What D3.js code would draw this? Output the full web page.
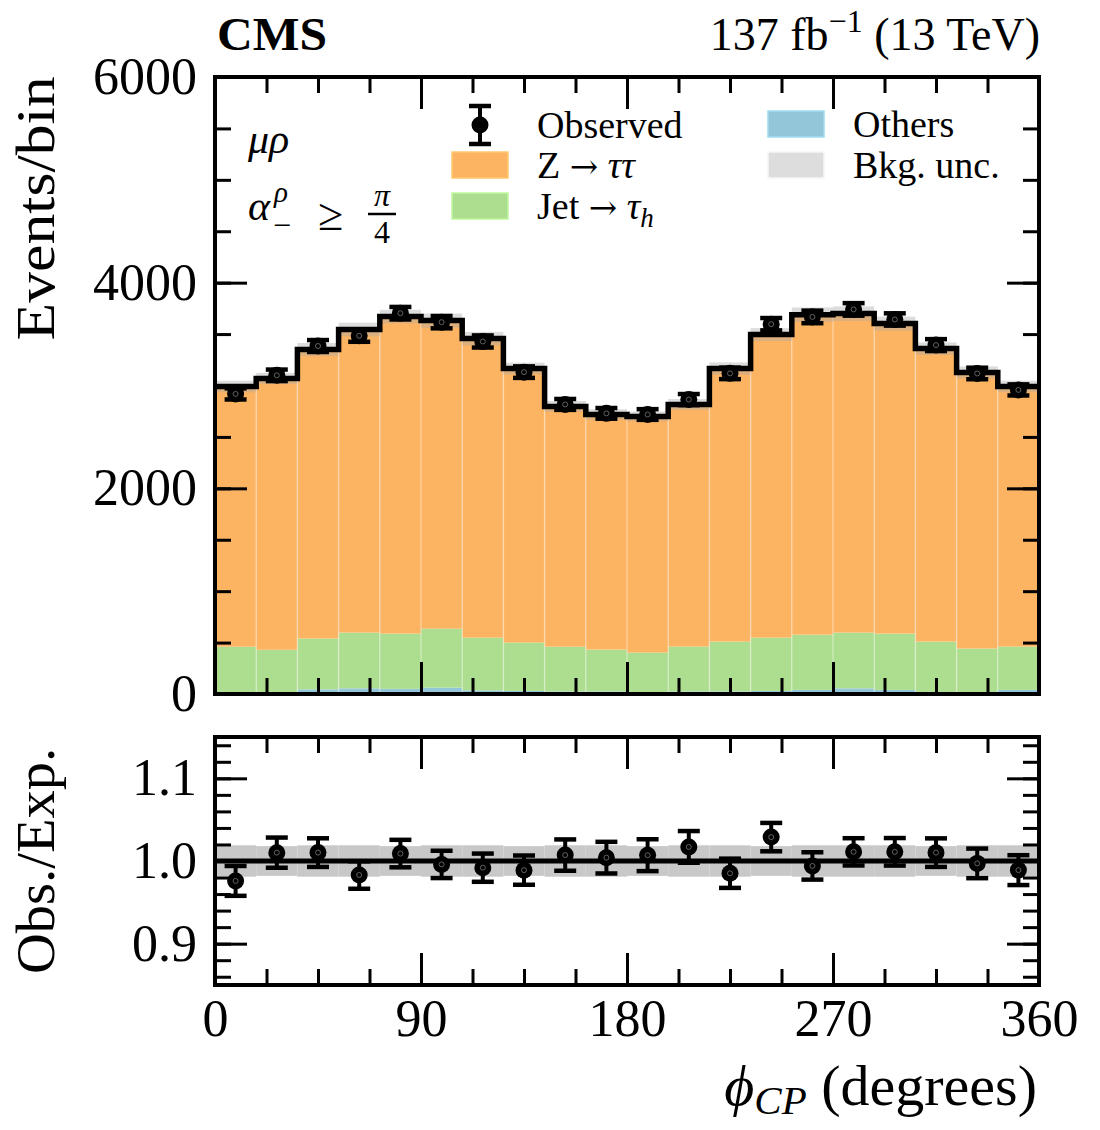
<!DOCTYPE html>
<html>
<head>
<meta charset="utf-8">
<script src="https://cdn.jsdelivr.net/npm/d3@7"></script>
<style>
  body { margin: 0; background: #fff; }
  text { font-family: "Liberation Serif", "DejaVu Serif", serif; fill: #000; }
</style>
</head>
<body>
<div id="chart"></div>
<script>
// phi_CP bin edges (degrees), 20 bins
const binEdges = [0, 18, 36, 54, 72, 90, 108, 126, 144, 162, 180,
                  198, 216, 234, 252, 270, 288, 306, 324, 342, 360];

// stacked backgrounds (events / bin), bottom to top
const othersVals = [15, 20, 45, 55, 50, 62, 35, 30, 25, 25, 20, 25, 25, 30, 40, 55, 40, 20, 20, 40];
const jetVals    = [445, 410, 495, 542, 537, 573, 513, 470, 435, 407, 383, 436, 485, 518, 537, 542, 547, 490, 422, 421];
const zttVals    = [2530, 2638, 2810, 2947, 3083, 2996, 2908, 2665, 2336, 2286, 2296, 2354, 2655, 2947, 3112, 3102, 3015, 2849, 2684, 2529];

// relative background uncertainty per bin
const bkgUnc = [0.019, 0.018, 0.019, 0.019, 0.018, 0.019, 0.019, 0.018, 0.019, 0.019,
                0.018, 0.019, 0.019, 0.018, 0.019, 0.019, 0.019, 0.018, 0.019, 0.019];

// data
const observed = [2918, 3099, 3384, 3484, 3703, 3616, 3428, 3130, 2816, 2729,
                  2718, 2863, 3118, 3596, 3667, 3740, 3642, 3393, 3117, 2957];
const obsErr   = [54, 56, 58, 59, 61, 60, 59, 56, 53, 52, 52, 54, 56, 60, 61, 61, 60, 58, 56, 54];

const xTicks = [0, 90, 180, 270, 360];
const yTicks = [0, 2000, 4000, 6000];
const ratioTicks = [0.9, 1.0, 1.1];

const colors = { others: "#92c6d8", jet: "#addd8e", ztt: "#fdb462" };

function chart(selector) {
  const W = 1100, H = 1130;
  const L = 215, R = 1039, mainTop = 77, mainBot = 694, ratTop = 737, ratBot = 985;

  const svg = d3.select(selector).append("svg")
    .attr("width", W).attr("height", H);

  const x = d3.scaleLinear().domain([0, 360]).range([L, R]);
  const y = d3.scaleLinear().domain([0, 6000]).range([mainBot, mainTop]);
  const yr = d3.scaleLinear().domain([0.85, 1.15]).range([ratBot, ratTop]);

  const bins = zttVals.map((v, i) => ({
    lo: binEdges[i], hi: binEdges[i + 1],
    others: othersVals[i], jet: jetVals[i], ztt: v,
    total: othersVals[i] + jetVals[i] + v,
    obs: observed[i], err: obsErr[i], unc: bkgUnc[i]
  }));

  const defs = svg.append("defs");
  defs.append("clipPath").attr("id", "clipMain")
    .append("rect").attr("x", L).attr("y", mainTop).attr("width", R - L).attr("height", mainBot - mainTop);
  defs.append("clipPath").attr("id", "clipRat")
    .append("rect").attr("x", L).attr("y", ratTop).attr("width", R - L).attr("height", ratBot - ratTop);

  // ---- main panel ----
  const main = svg.append("g").attr("clip-path", "url(#clipMain)");

  const series = d3.stack().keys(["others", "jet", "ztt"])(bins);
  main.selectAll("g.layer")
    .data(series)
    .enter().append("g")
    .attr("class", "layer")
    .attr("fill", d => colors[d.key])
    .selectAll("rect")
    .data(d => d)
    .enter().append("rect")
    .attr("x", d => x(d.data.lo))
    .attr("width", d => x(d.data.hi) - x(d.data.lo))
    .attr("y", d => y(d[1]))
    .attr("height", d => y(d[0]) - y(d[1]));

  // pale bin edges
  main.selectAll("line.edge")
    .data(bins.slice(1))
    .enter().append("line")
    .attr("x1", d => x(d.lo)).attr("x2", d => x(d.lo))
    .attr("y1", y(0))
    .attr("y2", (d, i) => y(Math.min(d.total, bins[i].total)))
    .attr("stroke", "#fff").attr("stroke-opacity", 0.35).attr("stroke-width", 1.5);

  // background uncertainty band
  main.selectAll("rect.unc")
    .data(bins)
    .enter().append("rect")
    .attr("x", d => x(d.lo))
    .attr("width", d => x(d.hi) - x(d.lo))
    .attr("y", d => y(d.total * (1 + d.unc)))
    .attr("height", d => y(d.total * (1 - d.unc)) - y(d.total * (1 + d.unc)))
    .attr("fill", "#aaaaaa").attr("fill-opacity", 0.4);

  // total step line
  const stepPts = bins.map(d => [x(d.lo), y(d.total)]);
  stepPts.push([x(360), y(bins[bins.length - 1].total)]);
  main.append("path")
    .attr("d", d3.line().curve(d3.curveStepAfter)(stepPts))
    .attr("fill", "none").attr("stroke", "#000").attr("stroke-width", 5.5);

  function points(g, data, ys, lo, hi) {
    const pt = g.selectAll("g.pt").data(data).enter().append("g")
      .attr("transform", d => `translate(${x((d.lo + d.hi) / 2)},0)`);
    pt.append("line").attr("y1", d => ys(lo(d))).attr("y2", d => ys(hi(d)))
      .attr("stroke", "#000").attr("stroke-width", 4);
    [lo, hi].forEach(f => pt.append("line")
      .attr("x1", -11).attr("x2", 11)
      .attr("y1", d => ys(f(d))).attr("y2", d => ys(f(d)))
      .attr("stroke", "#000").attr("stroke-width", 4.5));
    pt.append("circle").attr("cy", d => ys((lo(d) + hi(d)) / 2)).attr("r", 8.5).attr("fill", "#000");
    pt.append("circle").attr("cy", d => ys((lo(d) + hi(d)) / 2)).attr("r", 2.5)
      .attr("fill", "none").attr("stroke", "#777").attr("stroke-width", 0.8);
  }
  points(main, bins, y, d => d.obs - d.err, d => d.obs + d.err);

  // ---- ratio panel ----
  const rat = svg.append("g").attr("clip-path", "url(#clipRat)");
  rat.selectAll("rect.unc")
    .data(bins)
    .enter().append("rect")
    .attr("x", d => x(d.lo))
    .attr("width", d => x(d.hi) - x(d.lo))
    .attr("y", d => yr(1 + d.unc))
    .attr("height", d => yr(1 - d.unc) - yr(1 + d.unc))
    .attr("fill", "#c8c8c8");
  rat.append("line")
    .attr("x1", L).attr("x2", R).attr("y1", yr(1)).attr("y2", yr(1))
    .attr("stroke", "#000").attr("stroke-width", 5);
  points(rat, bins, yr, d => (d.obs - d.err) / d.total, d => (d.obs + d.err) / d.total);

  // ---- axes ----
  function ticks(g, axisFn, scale, values, size, fmt, pos) {
    const ax = g.append("g").attr("transform", pos)
      .call(axisFn(scale).tickValues(values).tickSize(-size).tickPadding(fmt ? 18 : 0)
        .tickFormat(fmt || (() => "")));
    ax.select(".domain").remove();
    ax.selectAll(".tick line").attr("stroke", "#000").attr("stroke-width", 3);
    ax.attr("font-family", null).attr("font-size", 52);
    return ax;
  }
  const xMinor = d3.range(0, 361, 22.5);
  const yMinor = d3.range(0, 6001, 500);
  const rMinor = d3.range(0.86, 1.15, 0.02);

  [[mainTop, mainBot, y, yTicks, yMinor, d3.format("d"), false],
   [ratTop, ratBot, yr, ratioTicks, rMinor, d3.format(".1f"), true]].forEach(([t, b, ys, maj, mnr, fmt, xlab]) => {
    const g = svg.append("g");
    ticks(g, d3.axisLeft, ys, mnr, 16, null, `translate(${L},0)`);
    ticks(g, d3.axisLeft, ys, maj, 32, fmt, `translate(${L},0)`);
    ticks(g, d3.axisRight, ys, mnr, 16, null, `translate(${R},0)`);
    ticks(g, d3.axisRight, ys, maj, 32, null, `translate(${R},0)`);
    ticks(g, d3.axisTop, x, xMinor, 16, null, `translate(0,${t})`);
    ticks(g, d3.axisTop, x, xTicks, 32, null, `translate(0,${t})`);
    ticks(g, d3.axisBottom, x, xMinor, 16, null, `translate(0,${b})`);
    const xb = ticks(g, d3.axisBottom, x, xTicks, 32, xlab ? d3.format("d") : null, `translate(0,${b})`);
    if (xlab) xb.selectAll(".tick text").attr("y", 14);
    g.append("rect").attr("x", L).attr("y", t).attr("width", R - L).attr("height", b - t)
      .attr("fill", "none").attr("stroke", "#000").attr("stroke-width", 4);
  });

  // axis titles
  svg.append("text")
    .attr("transform", `translate(54,${(mainTop + 340) / 2 + 0}) rotate(-90)`)
    .attr("text-anchor", "middle").attr("font-size", 54)
    .attr("textLength", 264).attr("lengthAdjust", "spacingAndGlyphs")
    .text("Events/bin");
  svg.append("text")
    .attr("transform", `translate(54,${(ratTop + ratBot) / 2}) rotate(-90)`)
    .attr("text-anchor", "middle").attr("font-size", 54)
    .attr("textLength", 226).attr("lengthAdjust", "spacingAndGlyphs")
    .text("Obs./Exp.");

  const xl = svg.append("text").attr("x", 1037).attr("y", 1105)
    .attr("text-anchor", "end").attr("font-size", 58);
  xl.append("tspan").attr("font-style", "italic").text("ϕ");
  xl.append("tspan").attr("font-style", "italic").attr("font-size", 41).attr("dy", 9).text("CP");
  xl.append("tspan").attr("dy", -9).text(" (degrees)");

  // header
  svg.append("text").attr("x", 217).attr("y", 50)
    .attr("font-size", 46).attr("font-weight", "bold")
    .attr("textLength", 110).attr("lengthAdjust", "spacingAndGlyphs").text("CMS");
  const lumi = svg.append("text").attr("x", 1040).attr("y", 50)
    .attr("text-anchor", "end").attr("font-size", 46);
  lumi.append("tspan").text("137 fb");
  lumi.append("tspan").attr("font-size", 32).attr("dy", -18).text("−1");
  lumi.append("tspan").attr("dy", 18).text(" (13 TeV)");

  // channel / category labels
  svg.append("text").attr("x", 248).attr("y", 153)
    .attr("font-size", 42).attr("font-style", "italic").text("μρ");
  svg.append("text").attr("x", 248).attr("y", 220)
    .attr("font-size", 42).attr("font-style", "italic").text("α");
  svg.append("text").attr("x", 274).attr("y", 202)
    .attr("font-size", 29).attr("font-style", "italic").text("ρ");
  svg.append("text").attr("x", 273).attr("y", 236)
    .attr("font-size", 32).text("−");
  svg.append("text").attr("x", 318).attr("y", 230)
    .attr("font-size", 46).text("≥");
  svg.append("text").attr("x", 382).attr("y", 206).attr("text-anchor", "middle")
    .attr("font-size", 32).attr("font-style", "italic").text("π");
  svg.append("line").attr("x1", 368).attr("x2", 396).attr("y1", 214).attr("y2", 214)
    .attr("stroke", "#000").attr("stroke-width", 2.5);
  svg.append("text").attr("x", 382).attr("y", 243).attr("text-anchor", "middle")
    .attr("font-size", 32).text("4");

  // legend
  const lg = svg.append("g").attr("font-size", 38);
  const mk = lg.append("g").attr("transform", "translate(480,125)");
  mk.append("line").attr("y1", -19).attr("y2", 19).attr("stroke", "#000").attr("stroke-width", 4);
  [-19, 19].forEach(v => mk.append("line").attr("x1", -11).attr("x2", 11).attr("y1", v).attr("y2", v)
    .attr("stroke", "#000").attr("stroke-width", 4.5));
  mk.append("circle").attr("r", 8.5).attr("fill", "#000");
  lg.append("text").attr("x", 537).attr("y", 138).text("Observed");

  const swatches = [
    { x: 452, y: 165, fill: colors.ztt, tx: 537, label: [["Z ", false], ["→", "arrow"], [" ", false], ["ττ", true]] },
    { x: 452, y: 206, fill: colors.jet, tx: 537, label: [["Jet ", false], ["→", "arrow"], [" ", false], ["τ", true], ["h", "sub"]] },
    { x: 768, y: 124, fill: colors.others, tx: 853, label: [["Others", false]] },
    { x: 768, y: 165, fill: "#dddddd", tx: 853, label: [["Bkg. unc.", false]] }
  ];
  swatches.forEach(s => {
    lg.append("rect").attr("x", s.x).attr("y", s.y - 13).attr("width", 56).attr("height", 26)
      .attr("fill", s.fill).attr("stroke", d3.color(s.fill).brighter(0.3)).attr("stroke-width", 1.5);
    const t = lg.append("text").attr("x", s.tx).attr("y", s.y + 13);
    s.label.forEach(([str, it]) => {
      const ts = t.append("tspan").text(str);
      if (it === true) ts.attr("font-style", "italic");
      if (it === "arrow") ts.attr("font-family", "DejaVu Serif").attr("font-size", 34);
      if (it === "sub") ts.attr("font-style", "italic").attr("font-size", 27).attr("dy", 8);
    });
  });
}

chart("#chart");
</script>
</body>
</html>
